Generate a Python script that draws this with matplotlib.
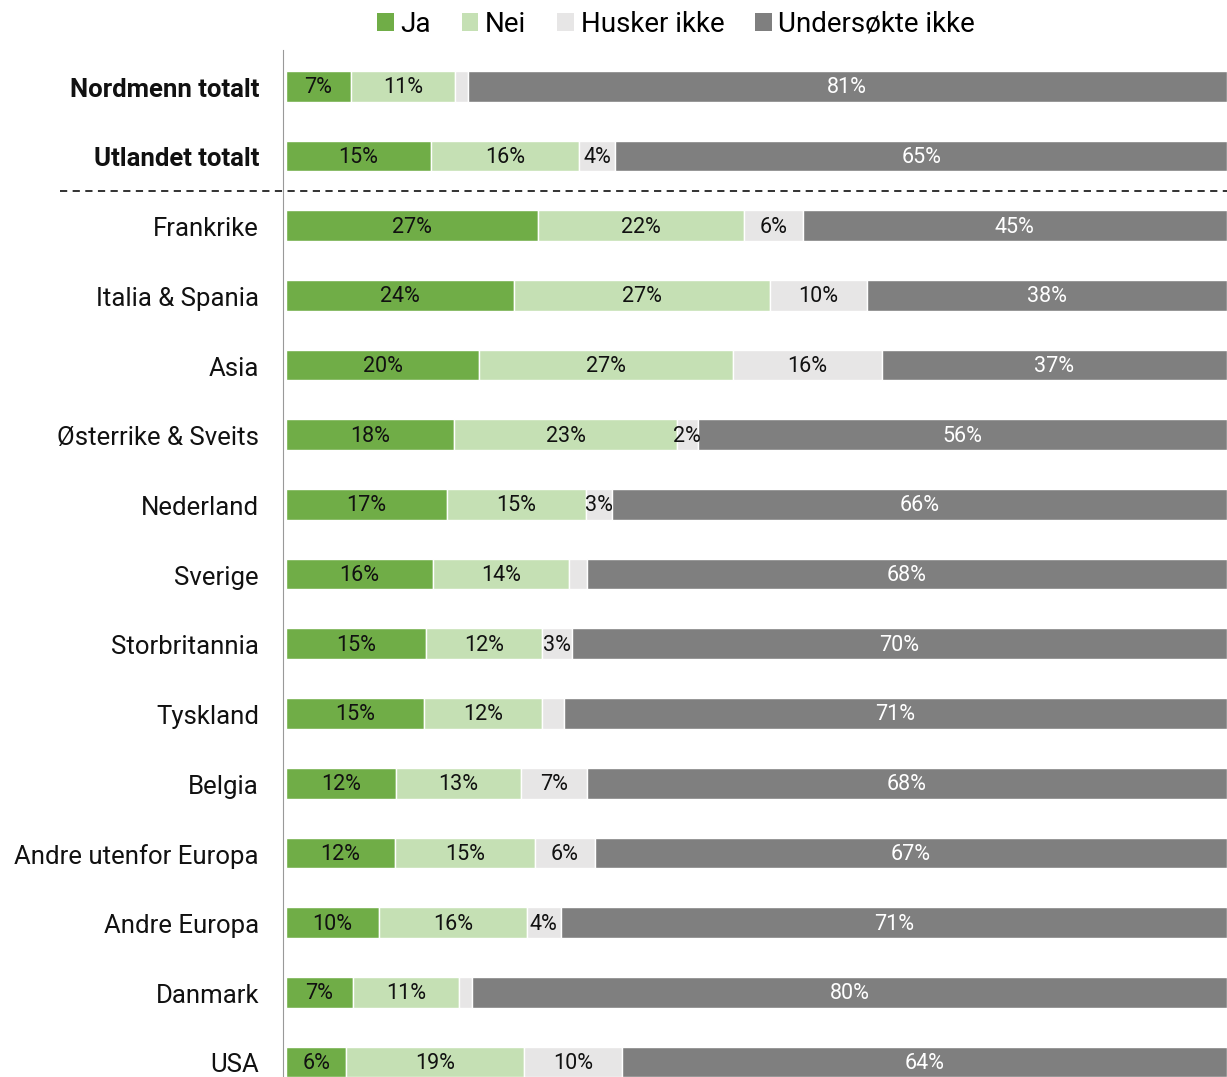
import matplotlib
matplotlib.use("Agg")
import matplotlib.pyplot as plt
from matplotlib.patches import Patch

# Data (percent of respondents)
categories = ["Nordmenn totalt", "Utlandet totalt", "Frankrike", "Italia & Spania", "Asia",
              "Østerrike & Sveits", "Nederland", "Sverige", "Storbritannia", "Tyskland",
              "Belgia", "Andre utenfor Europa", "Andre Europa", "Danmark", "USA"]
ja = [6.9, 15.4, 26.8, 24.2, 20.5, 17.9, 17.1, 15.6, 14.9, 14.7, 11.7, 11.6, 9.9, 7.1, 6.4]
nei = [11.1, 15.7, 21.9, 27.2, 27.0, 23.6, 14.8, 14.5, 12.3, 12.5, 13.3, 14.9, 15.7, 11.3, 18.9]
husker = [1.3, 3.9, 6.2, 10.3, 15.8, 2.3, 2.7, 1.9, 3.2, 2.3, 7.0, 6.3, 3.6, 1.4, 10.4]
undersokte = [80.7, 65.0, 45.1, 38.3, 36.7, 56.2, 65.4, 68.0, 69.6, 70.5, 68.0, 67.2, 70.8, 80.2, 64.3]

ja_lbl = ["7%", "15%", "27%", "24%", "20%", "18%", "17%", "16%", "15%", "15%", "12%", "12%", "10%", "7%", "6%"]
nei_lbl = ["11%", "16%", "22%", "27%", "27%", "23%", "15%", "14%", "12%", "12%", "13%", "15%", "16%", "11%", "19%"]
husker_lbl = ["", "4%", "6%", "10%", "16%", "2%", "3%", "", "3%", "", "7%", "6%", "4%", "", "10%"]
und_lbl = ["81%", "65%", "45%", "38%", "37%", "56%", "66%", "68%", "70%", "71%", "68%", "67%", "71%", "80%", "64%"]

series = ["Ja", "Nei", "Husker ikke", "Undersøkte ikke"]
colors = ["#70ad47", "#c5e0b4", "#e7e6e6", "#7f7f7f"]
text_colors = ["#111111", "#111111", "#111111", "white"]

plt.rcParams['font.family'] = ['Roboto', 'DejaVu Sans']

fig = plt.figure(figsize=(12.27, 10.77), dpi=100)
ax = fig.add_axes([286 / 1227, 0, 1 - 286 / 1227, 1 - 50 / 1077])

y = list(range(len(categories)))
left = [0] * len(categories)
for vals, lbls, col, tcol in zip([ja, nei, husker, undersokte],
                                 [ja_lbl, nei_lbl, husker_lbl, und_lbl],
                                 colors, text_colors):
    ax.barh(y, vals, left=left, height=0.44, color=col, edgecolor="white", linewidth=1)
    for i in range(len(categories)):
        if lbls[i]:
            ax.text(left[i] + vals[i] / 2, y[i] + 0.02, lbls[i], ha="center", va="center",
                    fontsize=15.5, color=tcol)
    left = [l + v for l, v in zip(left, vals)]

ax.set_xlim(0, 100)
ax.set_ylim(14.215, -0.52)
ax.set_yticks([])
ax.set_xticks([])

# category labels (first two in bold)
for i, name in enumerate(categories):
    ax.text(-0.0287, y[i] + 0.05, name, transform=ax.get_yaxis_transform(), ha="right",
            va="center", fontsize=18.5, color="#111111",
            fontweight="bold" if i < 2 else "normal")

for s in ["top", "right", "bottom"]:
    ax.spines[s].set_visible(False)
ax.spines["left"].set_color("#999999")
ax.spines["left"].set_position(("outward", 2))

# dashed separator between totals and countries
ax.plot([-0.24, 1], [1.5, 1.5], transform=ax.get_yaxis_transform(), color="#222222",
        linestyle=(0, (4, 3)), linewidth=1.3, clip_on=False)

handles = [Patch(facecolor=c, edgecolor="none") for c in colors]
fig.legend(handles, series, loc="center", bbox_to_anchor=(0.551, 1 - 24 / 1077), ncol=4,
           frameon=False, fontsize=20, handlelength=0.6, handleheight=0.6,
           handletextpad=0.25, columnspacing=1.1)

fig.savefig("out.png", dpi=100)
